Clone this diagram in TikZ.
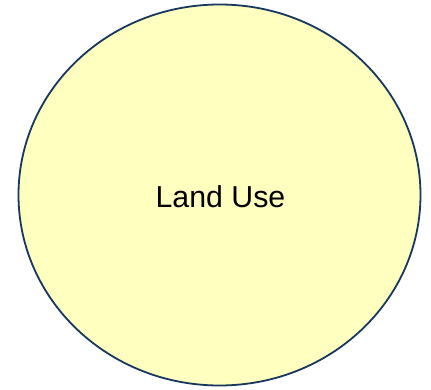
\documentclass[tikz,border=0pt]{standalone}
\usepackage{fontspec}
\setmainfont{Liberation Sans}
\usetikzlibrary{shapes.geometric}
\definecolor{fillyellow}{HTML}{FFFFC0}
\definecolor{navyline}{HTML}{17375E}
\begin{document}
\begin{tikzpicture}[x=1pt,y=-1pt,
  bubble/.style={ellipse,draw=navyline,fill=fillyellow,line width=1.8pt,
    minimum width=402pt,minimum height=381pt,inner sep=0pt},
  labeltext/.style={font=\fontsize{30.3}{35}\selectfont}]
\useasboundingbox (0,0) rectangle (431,390);
\node[bubble] (landuse) at (219.5,195) {};
\node[labeltext] (label) at (220.5,197) {Land Use};
\end{tikzpicture}
\end{document}
